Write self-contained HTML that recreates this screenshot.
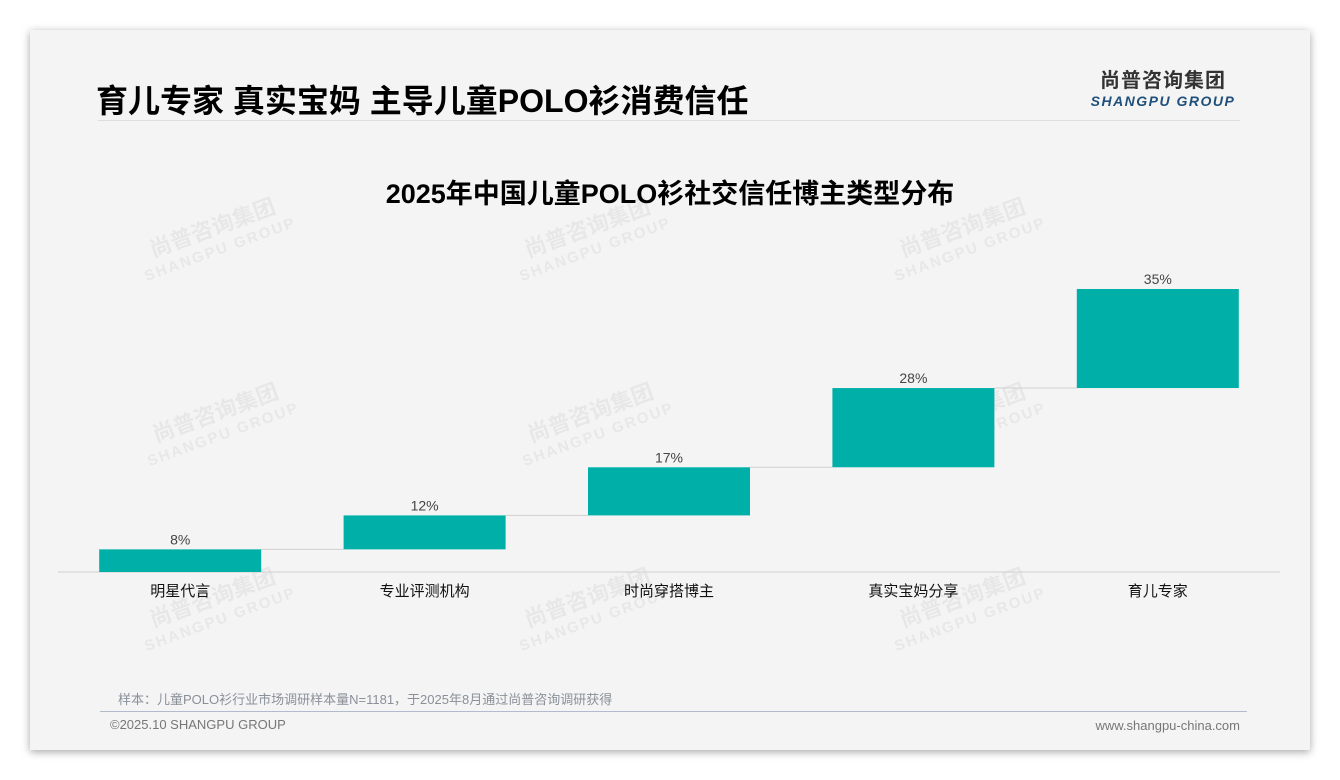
<!DOCTYPE html>
<html><head><meta charset="utf-8"><style>
body{margin:0;width:1340px;height:780px;background:#fff;position:relative;overflow:hidden;font-family:"Liberation Sans","Noto Sans CJK SC",sans-serif}
.card{position:absolute;left:30px;top:30px;width:1280px;height:720px;background:#f4f4f4;box-shadow:0 2px 8px rgba(0,0,0,.35)}
.abs{position:absolute}
</style></head><body>
<div class="card"></div>
<div class="abs" style="left:96px;top:76px;font-size:32px;font-weight:bold;color:#000;font-family:'Liberation Sans','Noto Sans CJK SC',sans-serif;white-space:nowrap">育儿专家 真实宝妈 主导儿童POLO衫消费信任</div>
<div class="abs" style="left:98px;top:120px;width:1142px;height:1px;background:#ddd"></div>
<div class="abs" style="left:1088px;top:64px;width:150px;text-align:center">
<div style="font-size:20px;font-weight:bold;color:#333;letter-spacing:1px">尚普咨询集团</div>
<div style="font-size:14px;font-weight:bold;font-style:italic;color:#1f4f7a;letter-spacing:1.5px">SHANGPU GROUP</div></div>
<div class="abs" style="left:0;width:1340px;top:172px;text-align:center;font-size:27px;font-weight:bold;color:#000">2025年中国儿童POLO衫社交信任博主类型分布</div>
<svg class="abs" style="left:0;top:0" width="1340" height="780" id="chart"></svg>
<div class="abs" style="left:118px;top:689px;font-size:13px;color:#8a9099">样本：儿童POLO衫行业市场调研样本量N=1181，于2025年8月通过尚普咨询调研获得</div>
<div class="abs" style="left:100px;top:711px;width:1147px;height:1px;background:#b0bccb"></div>
<div class="abs" style="left:110px;top:717px;font-size:13px;color:#777">©2025.10 SHANGPU GROUP</div>
<div class="abs" style="left:1060px;width:180px;text-align:right;top:718px;font-size:13px;color:#777">www.shangpu-china.com</div>
<script>
const categories=["明星代言","专业评测机构","时尚穿搭博主","真实宝妈分享","育儿专家"];
const values=[8,12,17,28,35];
const labels=["8%","12%","17%","28%","35%"];
const svg=document.getElementById('chart');
const NS='http://www.w3.org/2000/svg';
const base=572,top100=289,x0=58,x1=1280,bw=162;
const total=values.reduce((a,b)=>a+b,0);
const y=v=>base-(base-top100)*v/total;
const xc=i=>x0+(x1-x0)*(i+0.5)/categories.length;
function mk(t,a){const e=document.createElementNS(NS,t);for(const k in a)e.setAttribute(k,a[k]);svg.appendChild(e);return e;}
[[215,235],[590,235],[965,235],[218,420],[593,420],[965,420],[215,605],[590,605],[965,605]].forEach(p=>{
const g=mk('text',{x:p[0],y:p[1],'text-anchor':'middle',transform:`rotate(-20 ${p[0]} ${p[1]})`,fill:'rgba(0,0,0,0.05)','font-size':22,'font-weight':'bold'});
g.textContent='尚普咨询集团';


const g2=mk('text',{x:p[0],y:p[1]+20,'text-anchor':'middle',transform:`rotate(-20 ${p[0]} ${p[1]})`,fill:'rgba(0,0,0,0.05)','font-size':15,'font-weight':'bold','letter-spacing':2});
g2.textContent='SHANGPU GROUP';


});
const ax=mk('line',{x1:x0,x2:x1,y1:base,y2:base,stroke:'#d0d0d0','stroke-width':1});


let cum=0;
values.forEach((v,i)=>{
const c=xc(i);const yt=y(cum+v),yb=y(cum);
if(i<values.length-1){const l=mk('line',{x1:c+bw/2,x2:xc(i+1)-bw/2,y1:yt,y2:yt,stroke:'#d0d0d0','stroke-width':1});

}
const r=mk('rect',{x:c-bw/2,y:yt,width:bw,height:yb-yt,fill:'#00b0a8'});


const t=mk('text',{x:c,y:yt-5,'text-anchor':'middle','font-size':14,fill:'#444'});t.textContent=labels[i];


const cl=mk('text',{x:c,y:base+24,'text-anchor':'middle','font-size':15,fill:'#111'});cl.textContent=categories[i];


cum+=v;
});
</script>
</body></html>
